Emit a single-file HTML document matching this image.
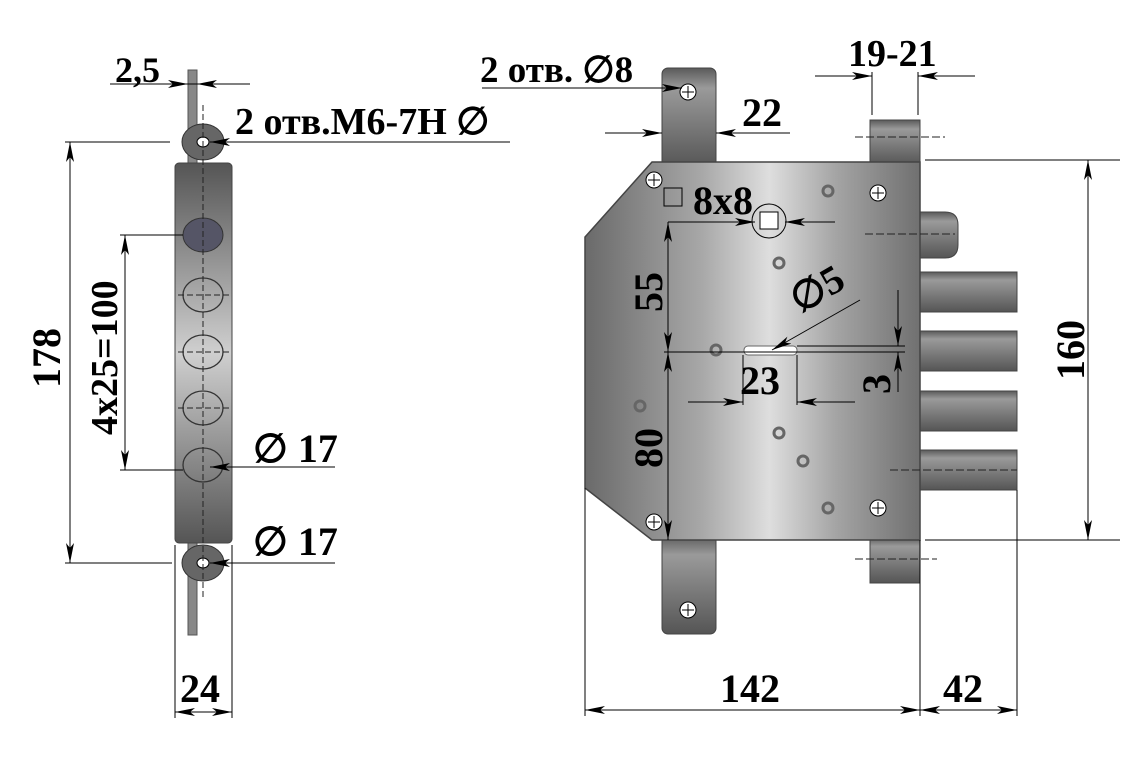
<!DOCTYPE html>
<html><head><meta charset="utf-8"><style>
html,body{margin:0;padding:0;background:#fff;}
svg{display:block;}
text{font-family:"Liberation Serif",serif;font-weight:bold;fill:#000;}
</style></head><body>
<svg width="1126" height="762" viewBox="0 0 1126 762" xmlns="http://www.w3.org/2000/svg">
<defs>
<linearGradient id="steel" x1="0" y1="0" x2="1" y2="0">
<stop offset="0" stop-color="#6a6a6a"/><stop offset="0.35" stop-color="#a8a8a8"/><stop offset="0.55" stop-color="#dedede"/><stop offset="0.75" stop-color="#a4a4a4"/><stop offset="1" stop-color="#707070"/>
</linearGradient>
<linearGradient id="lsteel" x1="0" y1="0" x2="0" y2="1">
<stop offset="0" stop-color="#555"/><stop offset="0.5" stop-color="#cfcfcf"/><stop offset="1" stop-color="#555"/>
</linearGradient>
<linearGradient id="bolt" x1="0" y1="0" x2="0" y2="1">
<stop offset="0" stop-color="#5a5a5a"/><stop offset="0.2" stop-color="#9a9a9a"/><stop offset="1" stop-color="#555"/>
</linearGradient>
<marker id="a" viewBox="0 0 20 8" refX="20" refY="4" markerWidth="20" markerHeight="8" markerUnits="userSpaceOnUse" orient="auto"><path d="M0,0 L20,4 L0,8 L5,4z" fill="#000"/></marker>
</defs>

<!-- ===== LEFT VIEW ===== -->
<rect x="188" y="70" width="9" height="565" fill="#888" stroke="#555"/>
<rect x="175" y="163" width="57" height="380" rx="4" fill="url(#lsteel)" stroke="#444"/>
<ellipse cx="203" cy="142" rx="21" ry="18" fill="#666" stroke="#333"/>
<ellipse cx="203" cy="142" rx="6" ry="5" fill="#fff" stroke="#000"/>
<ellipse cx="203" cy="563" rx="21" ry="18" fill="#666" stroke="#333"/>
<ellipse cx="203" cy="563" rx="6" ry="5" fill="#fff" stroke="#000"/>
<ellipse cx="203" cy="235" rx="20" ry="17" fill="#556" stroke="#333"/>
<g fill="none" stroke="#333" stroke-width="1.3">
<ellipse cx="203" cy="295" rx="20" ry="17"/><ellipse cx="203" cy="352" rx="20" ry="17"/>
<ellipse cx="203" cy="408" rx="20" ry="17"/><ellipse cx="203" cy="465" rx="20" ry="17"/>
</g>
<g stroke="#222" stroke-dasharray="6,3" fill="none">
<line x1="203" y1="105" x2="203" y2="600"/>
<line x1="178" y1="295" x2="230" y2="295"/><line x1="178" y1="352" x2="230" y2="352"/><line x1="178" y1="408" x2="230" y2="408"/>
</g>
<g stroke="#000" stroke-width="1" fill="none">
<line x1="110" y1="84" x2="250" y2="84"/>
<line x1="150" y1="84" x2="188" y2="84" marker-end="url(#a)"/>
<line x1="235" y1="84" x2="197" y2="84" marker-end="url(#a)"/>
<line x1="65" y1="142" x2="170" y2="142"/><line x1="65" y1="563" x2="172" y2="563"/>
<line x1="510" y1="142" x2="210" y2="142" marker-end="url(#a)"/>
<line x1="70" y1="142" x2="70" y2="563"/>
<line x1="70" y1="352" x2="70" y2="142" marker-end="url(#a)"/><line x1="70" y1="352" x2="70" y2="563" marker-end="url(#a)"/>
<line x1="120" y1="235" x2="183" y2="235"/><line x1="120" y1="470" x2="183" y2="470"/>
<line x1="125" y1="352" x2="125" y2="235" marker-end="url(#a)"/><line x1="125" y1="352" x2="125" y2="470" marker-end="url(#a)"/>
<line x1="335" y1="467" x2="210" y2="467" marker-end="url(#a)"/>
<line x1="335" y1="563" x2="210" y2="563" marker-end="url(#a)"/>
<line x1="175" y1="545" x2="175" y2="718"/><line x1="232" y1="545" x2="232" y2="718"/>
<line x1="203" y1="712" x2="175" y2="712" marker-end="url(#a)"/><line x1="203" y1="712" x2="232" y2="712" marker-end="url(#a)"/>
</g>
<text x="115" y="82" font-size="36">2,5</text>
<text x="235" y="134" font-size="38">2 отв.M6-7H ∅</text>
<text x="0" y="0" font-size="40" transform="translate(60,388) rotate(-90)">178</text>
<text x="0" y="0" font-size="38" transform="translate(117,435) rotate(-90)">4x25=100</text>
<text x="253" y="462" font-size="40">∅ 17</text>
<text x="253" y="555" font-size="40">∅ 17</text>
<text x="180" y="702" font-size="40">24</text>

<!-- ===== RIGHT VIEW ===== -->
<rect x="662" y="68" width="54" height="100" rx="6" fill="url(#bolt)" stroke="#444"/>
<rect x="662" y="535" width="54" height="99" rx="6" fill="url(#bolt)" stroke="#444"/>
<rect x="870" y="120" width="50" height="45" fill="url(#bolt)" stroke="#444"/>
<rect x="870" y="537" width="50" height="46" fill="url(#bolt)" stroke="#444"/>
<path d="M918,212 L945,212 Q958,212 958,225 L958,245 Q958,258 945,258 L918,258z" fill="url(#bolt)" stroke="#444"/>
<g fill="url(#bolt)" stroke="#444">
<rect x="918" y="272" width="99" height="40"/><rect x="918" y="331" width="99" height="40"/>
<rect x="918" y="391" width="99" height="40"/><rect x="918" y="450" width="99" height="40"/>
</g>
<path d="M652,162 L920,162 L920,540 L652,540 L585,488 L585,237 Z" fill="url(#steel)" stroke="#444" stroke-width="1.5"/>
<g fill="#fff" stroke="#000">
<circle cx="654" cy="180" r="8"/><circle cx="654" cy="522" r="8"/><circle cx="688" cy="92" r="8"/>
<circle cx="688" cy="610" r="8"/><circle cx="878" cy="193" r="8"/><circle cx="878" cy="508" r="8"/>
</g>
<g stroke="#000" stroke-width="1">
<path d="M648,180h12M654,174v12M648,522h12M654,516v12M682,92h12M688,86v12M682,610h12M688,604v12M872,193h12M878,187v12M872,508h12M878,502v12"/>
</g>
<g fill="none" stroke="#666" stroke-width="3">
<circle cx="828" cy="191" r="5"/><circle cx="779" cy="263" r="5"/><circle cx="716" cy="350" r="5"/>
<circle cx="640" cy="406" r="5"/><circle cx="779" cy="433" r="5"/><circle cx="803" cy="461" r="5"/><circle cx="828" cy="508" r="5"/>
</g>
<circle cx="769" cy="221" r="17" fill="none" stroke="#000"/>
<rect x="760" y="212" width="18" height="17" fill="#fff" stroke="#000"/>
<rect x="664" y="188" width="18" height="18" fill="none" stroke="#000"/>
<rect x="744" y="346" width="53" height="9" rx="4" fill="#fff" stroke="#666"/>
<g stroke="#000" stroke-width="1" fill="none">
<line x1="482" y1="88" x2="682" y2="88" marker-end="url(#a)"/>
<line x1="605" y1="133" x2="662" y2="133" marker-end="url(#a)"/>
<line x1="790" y1="133" x2="716" y2="133" marker-end="url(#a)"/>
<line x1="815" y1="76" x2="872" y2="76" marker-end="url(#a)"/>
<line x1="975" y1="76" x2="918" y2="76" marker-end="url(#a)"/>
<line x1="872" y1="72" x2="872" y2="115"/><line x1="918" y1="72" x2="918" y2="115"/>
<line x1="668" y1="222" x2="755" y2="222" marker-end="url(#a)"/>
<line x1="835" y1="222" x2="785" y2="222" marker-end="url(#a)"/>
<line x1="668" y1="288" x2="668" y2="222" marker-end="url(#a)"/>
<line x1="668" y1="288" x2="668" y2="352" marker-end="url(#a)"/>
<line x1="668" y1="445" x2="668" y2="352" marker-end="url(#a)"/>
<line x1="668" y1="445" x2="668" y2="540" marker-end="url(#a)"/>
<line x1="664" y1="352" x2="905" y2="352"/>
<line x1="797" y1="346" x2="905" y2="346"/>
<line x1="860" y1="300" x2="772" y2="350" marker-end="url(#a)"/>
<line x1="743" y1="355" x2="743" y2="405"/><line x1="797" y1="355" x2="797" y2="405"/>
<line x1="688" y1="402" x2="743" y2="402" marker-end="url(#a)"/>
<line x1="855" y1="402" x2="797" y2="402" marker-end="url(#a)"/>
<line x1="898" y1="290" x2="898" y2="346" marker-end="url(#a)"/>
<line x1="898" y1="392" x2="898" y2="352" marker-end="url(#a)"/>
<line x1="925" y1="160" x2="1120" y2="160"/><line x1="925" y1="540" x2="1120" y2="540"/>
<line x1="1088" y1="350" x2="1088" y2="160" marker-end="url(#a)"/>
<line x1="1088" y1="350" x2="1088" y2="540" marker-end="url(#a)"/>
<line x1="585" y1="488" x2="585" y2="716"/><line x1="920" y1="540" x2="920" y2="716"/><line x1="1017" y1="490" x2="1017" y2="716"/>
<line x1="750" y1="710" x2="585" y2="710" marker-end="url(#a)"/>
<line x1="750" y1="710" x2="920" y2="710" marker-end="url(#a)"/>
<line x1="968" y1="710" x2="920" y2="710" marker-end="url(#a)"/>
<line x1="968" y1="710" x2="1017" y2="710" marker-end="url(#a)"/>
</g>
<g stroke="#222" stroke-dasharray="8,3" fill="none">
<line x1="855" y1="137" x2="945" y2="137"/><line x1="855" y1="559" x2="937" y2="559"/>
<line x1="865" y1="234" x2="955" y2="234"/><line x1="890" y1="470" x2="1017" y2="470"/>
</g>
<text x="480" y="82" font-size="37">2 отв. ∅8</text>
<text x="742" y="126" font-size="40">22</text>
<text x="848" y="66" font-size="38">19-21</text>
<text x="693" y="214" font-size="40">8x8</text>
<text x="0" y="0" font-size="40" transform="translate(662,312) rotate(-90)">55</text>
<text x="0" y="0" font-size="40" transform="translate(662,468) rotate(-90)">80</text>
<text x="0" y="0" font-size="40" transform="translate(800,314) rotate(-30)">∅5</text>
<text x="740" y="394" font-size="40">23</text>
<text x="0" y="0" font-size="40" transform="translate(890,394) rotate(-90)">3</text>
<text x="0" y="0" font-size="40" transform="translate(1084,380) rotate(-90)">160</text>
<text x="720" y="702" font-size="40">142</text>
<text x="943" y="702" font-size="40">42</text>
</svg>
</body></html>
